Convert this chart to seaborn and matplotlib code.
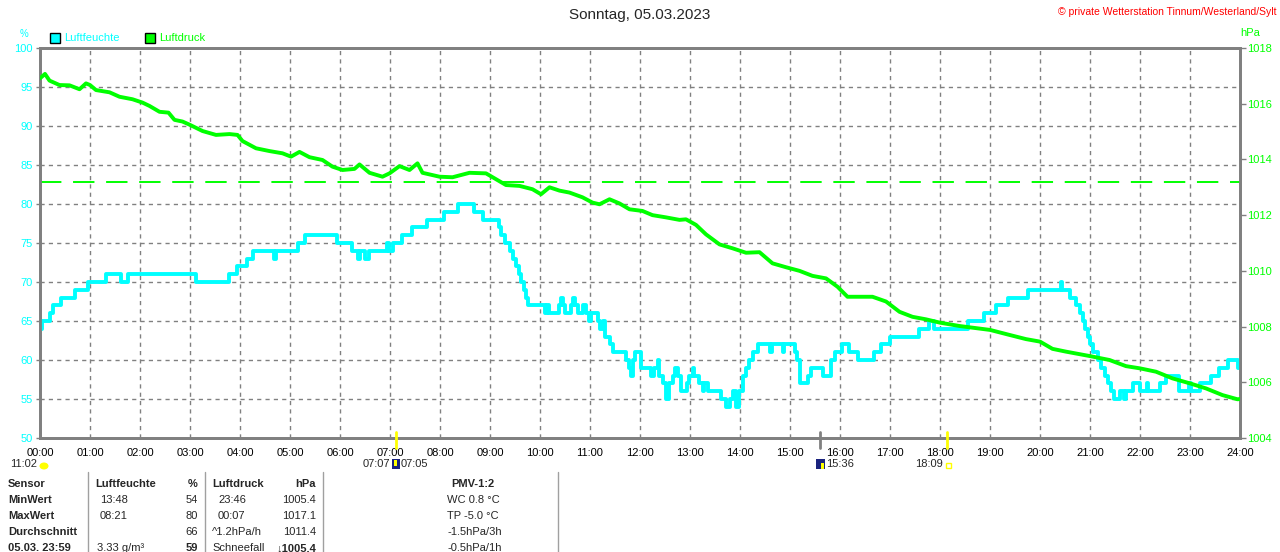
import numpy as np
import matplotlib
matplotlib.use("Agg")
import matplotlib.pyplot as plt
import matplotlib.patches as mpatches
import pandas as pd
import seaborn as sns

# Luftfeuchte (%), step changes: hour of change, new value
hum_hours = [0.00, 0.04, 0.20, 0.25, 0.42, 0.69, 0.95, 1.32, 1.62, 1.75, 3.12, 3.78, 3.93,
             4.14, 4.27, 4.68, 4.72, 5.16, 5.30, 5.94, 6.24, 6.36, 6.40, 6.50, 6.57, 6.94,
             6.97, 7.06, 7.24, 7.43, 7.73, 8.07, 8.37, 8.67, 8.85, 9.17, 9.22, 9.30, 9.40,
             9.46, 9.52, 9.57, 9.62, 9.67, 9.71, 9.75, 10.10, 10.14, 10.18, 10.38, 10.42,
             10.46, 10.50, 10.62, 10.65, 10.70, 10.75, 10.85, 10.92, 10.98, 11.02, 11.15,
             11.20, 11.25, 11.30, 11.40, 11.45, 11.72, 11.78, 11.82, 11.86, 11.90, 12.02,
             12.22, 12.28, 12.35, 12.38, 12.45, 12.52, 12.58, 12.65, 12.70, 12.75, 12.82,
             12.94, 12.98, 13.05, 13.08, 13.18, 13.25, 13.28, 13.35, 13.62, 13.72, 13.80,
             13.85, 13.92, 13.98, 14.05, 14.12, 14.18, 14.25, 14.35, 14.60, 14.63, 14.85,
             14.88, 15.10, 15.14, 15.20, 15.35, 15.42, 15.65, 15.82, 15.90, 16.03, 16.17,
             16.35, 16.67, 16.83, 17.00, 17.58, 17.78, 17.88, 18.55, 18.87, 19.12, 19.35,
             19.75, 20.41, 20.44, 20.59, 20.72, 20.80, 20.85, 20.90, 20.95, 21.00, 21.05,
             21.15, 21.22, 21.30, 21.35, 21.42, 21.48, 21.60, 21.68, 21.72, 21.85, 22.00,
             22.14, 22.16, 22.40, 22.52, 22.78, 22.98, 23.02, 23.20, 23.42, 23.58, 23.75,
             23.96, 24.00]
hum_values = [64, 65, 66, 67, 68, 69, 70, 71, 70, 71, 70, 71, 72,
              73, 74, 73, 74, 75, 76, 75, 74, 73, 74, 73, 74, 75,
              74, 75, 76, 77, 78, 79, 80, 79, 78, 77, 76, 75, 74,
              73, 72, 71, 70, 69, 68, 67, 66, 67, 66, 67, 68,
              67, 66, 67, 68, 67, 66, 67, 66, 65, 66, 65,
              64, 65, 63, 62, 61, 60, 59, 58, 60, 61, 59,
              58, 59, 60, 58, 57, 55, 57, 58, 59, 58, 56,
              57, 58, 59, 58, 57, 56, 57, 56, 55, 54, 55,
              56, 54, 56, 58, 59, 60, 61, 62, 61, 62, 61,
              62, 61, 60, 57, 58, 59, 58, 60, 61, 62, 61,
              60, 61, 62, 63, 64, 65, 64, 65, 66, 67, 68,
              69, 70, 69, 68, 67, 66, 65, 64, 63, 62, 61,
              60, 59, 58, 57, 56, 55, 56, 55, 56, 57, 56,
              57, 56, 57, 58, 56, 57, 56, 57, 58, 59, 60,
              59, 59]

# Luftdruck (hPa)
press_hours = [0.00, 0.10, 0.19, 0.39, 0.59, 0.79, 0.92, 1.00, 1.12, 1.39, 1.59, 1.85, 2.05,
               2.19, 2.39, 2.57, 2.69, 2.85, 3.00, 3.25, 3.52, 3.79, 3.95, 4.05, 4.32, 4.59,
               4.85, 5.02, 5.19, 5.39, 5.65, 5.85, 6.05, 6.29, 6.39, 6.59, 6.85, 6.99, 7.19,
               7.39, 7.55, 7.65, 7.99, 8.25, 8.59, 8.92, 9.12, 9.32, 9.59, 9.85, 10.02, 10.19,
               10.39, 10.59, 10.85, 11.05, 11.19, 11.39, 11.59, 11.79, 12.05, 12.25, 12.52,
               12.79, 12.92, 13.12, 13.32, 13.59, 13.85, 14.12, 14.39, 14.65, 14.92, 15.19,
               15.45, 15.72, 15.95, 16.15, 16.65, 16.92, 17.19, 17.45, 17.72, 18.00, 18.39,
               19.00, 19.39, 19.72, 20.00, 20.25, 20.52, 21.00, 21.39, 21.72, 22.00, 22.32,
               22.65, 23.00, 23.32, 23.65, 23.95, 24.00]
press_values = [1016.91, 1017.07, 1016.83, 1016.67, 1016.66, 1016.52, 1016.73, 1016.67, 1016.49,
                1016.41, 1016.25, 1016.16, 1016.04, 1015.92, 1015.71, 1015.68, 1015.42, 1015.36,
                1015.24, 1015.02, 1014.88, 1014.91, 1014.88, 1014.66, 1014.40, 1014.30, 1014.22,
                1014.10, 1014.27, 1014.08, 1013.98, 1013.74, 1013.62, 1013.66, 1013.82, 1013.52,
                1013.38, 1013.50, 1013.76, 1013.62, 1013.86, 1013.52, 1013.38, 1013.36, 1013.52,
                1013.50, 1013.29, 1013.08, 1013.05, 1012.93, 1012.75, 1013.00, 1012.88, 1012.81,
                1012.64, 1012.45, 1012.39, 1012.57, 1012.42, 1012.21, 1012.15, 1012.00, 1011.92,
                1011.83, 1011.85, 1011.65, 1011.31, 1010.95, 1010.81, 1010.65, 1010.67, 1010.27,
                1010.13, 1010.00, 1009.82, 1009.73, 1009.43, 1009.07, 1009.07, 1008.90, 1008.53,
                1008.35, 1008.26, 1008.14, 1008.02, 1007.88, 1007.70, 1007.55, 1007.46, 1007.20,
                1007.10, 1006.94, 1006.80, 1006.58, 1006.50, 1006.38, 1006.14, 1005.96, 1005.78,
                1005.54, 1005.39, 1005.40]
press_ref = 1013.2

hour_ticks = list(range(25))
hour_labels = ["%02d:00" % h for h in hour_ticks]
hum_ticks = [50, 55, 60, 65, 70, 75, 80, 85, 90, 95, 100]
press_ticks = [1004, 1006, 1008, 1010, 1012, 1014, 1016, 1018]

table_rows = [
    ["Sensor", "Luftfeuchte", "%", "Luftdruck", "hPa", "PMV-1:2"],
    ["MinWert", "13:48", "54", "23:46", "1005.4", "WC 0.8 °C"],
    ["MaxWert", "08:21", "80", "00:07", "1017.1", "TP -5.0 °C"],
    ["Durchschnitt", "", "66", "^1.2hPa/h", "1011.4", "-1.5hPa/3h"],
    ["05.03. 23:59", "3.33 g/m³", "59", "Schneefall", "↓1005.4", "-0.5hPa/1h"],
]

CYAN = "#00ffff"
GREEN = "#00ff00"
GRAY = "#808080"

sns.set_style("white")
plt.rcParams["font.family"] = ["Liberation Sans", "DejaVu Sans"]
plt.rcParams["font.size"] = 8

W, H = 1280, 552
fig = plt.figure(figsize=(W / 100, H / 100), dpi=100)
fig.patch.set_facecolor("white")

def px(x, y):
    return x / W, 1 - y / H

ax = fig.add_axes([40 / W, 1 - 438 / H, 1200 / W, 390 / H])
ax2 = ax.twinx()

hum = pd.DataFrame({"t": hum_hours, "v": hum_values})
press = pd.DataFrame({"t": press_hours, "v": press_values})

sns.lineplot(data=hum, x="t", y="v", ax=ax, color=CYAN, linewidth=2.8,
             drawstyle="steps-post", estimator=None, sort=False, zorder=3)
sns.lineplot(data=press, x="t", y="v", ax=ax2, color=GREEN, linewidth=2.8,
             estimator=None, sort=False, zorder=3)
ax2.axhline(press_ref, color=GREEN, linewidth=1.4, dashes=(11, 6))

ax.set_xlim(0, 24)
ax.set_ylim(50, 100)
ax2.set_ylim(1004, 1018)
ax.set_xticks(hour_ticks)
ax.set_xticklabels(hour_labels)
ax.set_yticks(hum_ticks)
ax2.set_yticks(press_ticks)
ax.set_xlabel("")
ax.set_ylabel("")
ax2.set_ylabel("")

for h in range(1, 24):
    ax.axvline(h, color=GRAY, linewidth=1, dashes=(3, 3), zorder=1)
for v in hum_ticks[1:-1]:
    ax.axhline(v, color=GRAY, linewidth=1, dashes=(3, 3), zorder=1)

for a in (ax, ax2):
    for s in a.spines.values():
        s.set_color(GRAY)
        s.set_linewidth(2)
ax.tick_params(axis="x", colors=GRAY, labelcolor="black", length=4, width=1, pad=3, labelsize=8)
ax.tick_params(axis="y", colors=GRAY, labelcolor=CYAN, length=3, width=1, pad=2, labelsize=8)
ax2.tick_params(axis="y", colors=GRAY, labelcolor=GREEN, length=4, width=1, pad=1, labelsize=8)

# header texts
fig.text(*px(640, 15), "Sonntag, 05.03.2023", ha="center", va="center", fontsize=11)
fig.text(*px(1276, 12), "© private Wetterstation Tinnum/Westerland/Sylt", ha="right",
         va="center", fontsize=7.5, color="red")
fig.text(*px(24, 34), "%", ha="center", va="center", fontsize=7, color=CYAN)
fig.text(*px(1250, 33), "hPa", ha="center", va="center", fontsize=8, color=GREEN)

# legend
for x0, label, col in [(50, "Luftfeuchte", CYAN), (145, "Luftdruck", GREEN)]:
    fig.patches.append(plt.Rectangle(px(x0, 43), 10 / W, 10 / H, transform=fig.transFigure,
                                     facecolor=col, edgecolor="black", linewidth=1))
    fig.text(*px(x0 + 14, 38), label, ha="left", va="center", fontsize=8, color=col)

# sun / moon markers below the time axis
for xx, col in [(396, "#ffff00"), (947, "#ffff00"), (820, GRAY)]:
    fig.add_artist(plt.Line2D([xx / W, xx / W], [1 - 432 / H, 1 - 448 / H],
                              color=col, linewidth=2, transform=fig.transFigure))
fig.text(*px(10, 464), "11:02", ha="left", va="center", fontsize=8)
fig.patches.append(mpatches.Ellipse(px(44, 466), 9 / W, 7 / H, transform=fig.transFigure,
                                    facecolor="#ffff00", edgecolor="none"))
fig.text(*px(390, 464), "07:07", ha="right", va="center", fontsize=8)
fig.patches.append(plt.Rectangle(px(392, 469), 8 / W, 10 / H, transform=fig.transFigure,
                                 facecolor="#1a237e", edgecolor="none"))
fig.patches.append(plt.Rectangle(px(394, 466), 3 / W, 6 / H, transform=fig.transFigure,
                                 facecolor="#ffff00", edgecolor="none"))
fig.text(*px(401, 464), "07:05", ha="left", va="center", fontsize=8)
fig.patches.append(plt.Rectangle(px(816, 469), 9 / W, 10 / H, transform=fig.transFigure,
                                 facecolor="#1a237e", edgecolor="none"))
fig.patches.append(plt.Rectangle(px(821, 469), 3 / W, 6 / H, transform=fig.transFigure,
                                 facecolor="#ffff00", edgecolor="none"))
fig.text(*px(826, 464), "15:36", ha="left", va="center", fontsize=8)
fig.text(*px(943, 464), "18:09", ha="right", va="center", fontsize=8)
fig.patches.append(plt.Rectangle(px(946, 468), 5 / W, 5 / H, transform=fig.transFigure,
                                 facecolor="none", edgecolor="#ffff00", linewidth=1))

# table
for xx in [88, 205, 323, 558]:
    fig.add_artist(plt.Line2D([xx / W, xx / W], [1 - 472 / H, 0], color="#a0a0a0",
                              linewidth=1, transform=fig.transFigure))
row_y = [484, 500, 516, 532, 548]
for i, (row, yy) in enumerate(zip(table_rows, row_y)):
    head = i == 0
    last = i == len(table_rows) - 1
    fig.text(*px(8, yy), row[0], ha="left", va="center", fontweight="bold")
    fig.text(*px(95 if head else 100 if not last else 97, yy), row[1], ha="left",
             va="center", fontweight="bold" if head else "normal")
    fig.text(*px(198, yy), row[2], ha="right", va="center",
             fontweight="bold" if head or last else "normal")
    fig.text(*px(212 if (head or i >= 3) else 218, yy), row[3], ha="left", va="center",
             fontweight="bold" if head else "normal")
    fig.text(*px(316, yy), row[4], ha="right", va="center",
             fontweight="bold" if head or last else "normal")
    if head:
        fig.text(*px(473, yy), row[5], ha="center", va="center", fontweight="bold")
    else:
        fig.text(*px(447, yy), row[5], ha="left", va="center")

fig.savefig("out.png", dpi=100)
